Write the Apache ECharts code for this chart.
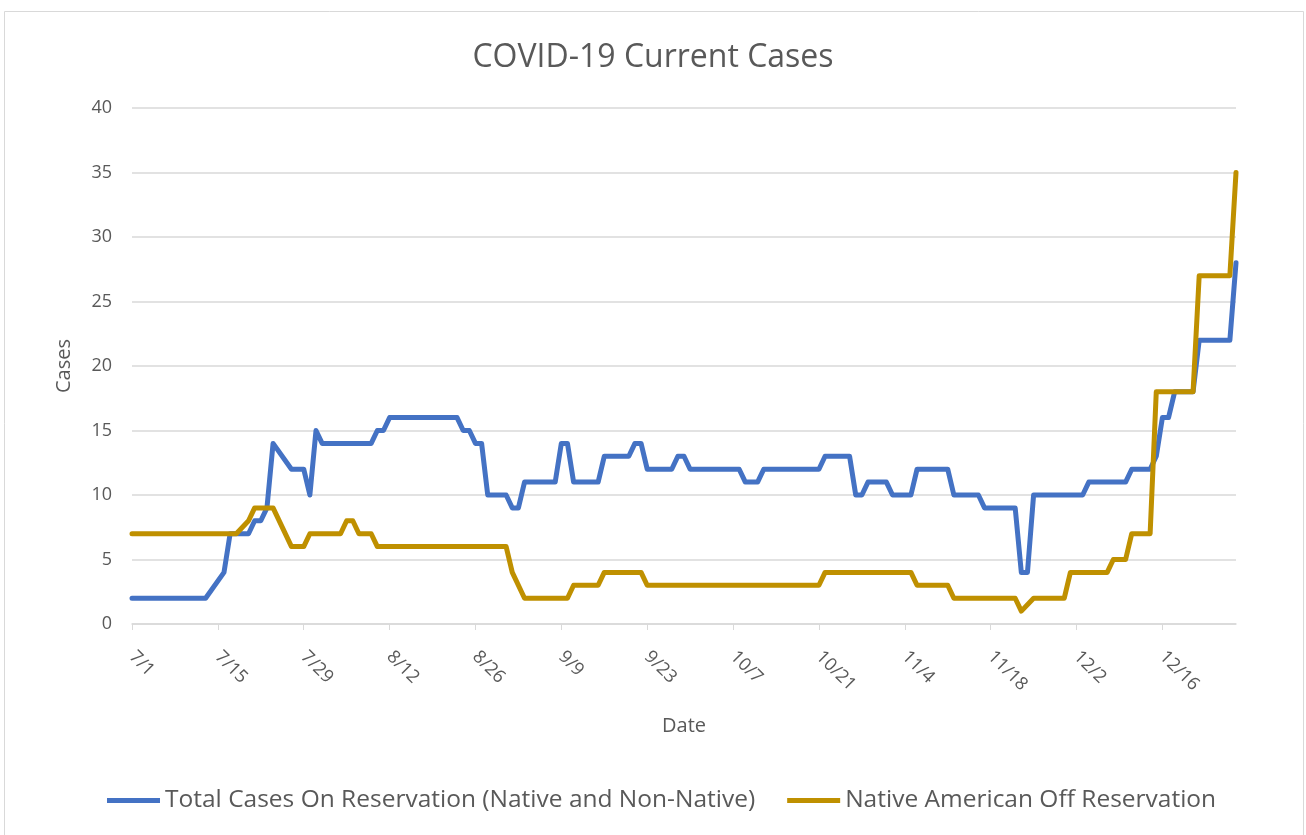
<!DOCTYPE html>
<html>
<head>
<meta charset="utf-8">
<script src="https://cdn.jsdelivr.net/npm/echarts@6/dist/echarts.min.js"></script>
<style>
html, body { margin: 0; padding: 0; background: #fff; }
#chart { width: 1306px; height: 835px; }
</style>
</head>
<body>
<div id="chart"></div>
<script>
// daily values from 7/1 to 12/28, null = no report that day (line is drawn straight across)
const totalOnReservation = [
    2, 2, 2, 2, 2, 2, 2, 2, 2, 2, 2, 2, 2, null,
    null, 4, 7, 7, 7, 7, 8, 8, 9, 14, null, null, 12, 12,
    12, 10, 15, 14, 14, 14, 14, 14, 14, 14, 14, 14, 15, 15,
    16, 16, 16, 16, 16, 16, 16, 16, 16, 16, 16, 16, 15, 15,
    14, 14, 10, 10, 10, 10, 9, 9, 11, 11, 11, 11, 11, 11,
    14, 14, 11, 11, 11, 11, 11, 13, 13, 13, 13, 13, 14, 14,
    12, 12, 12, 12, 12, 13, 13, 12, 12, 12, 12, 12, 12, 12,
    12, 12, 11, 11, 11, 12, 12, 12, 12, 12, 12, 12, 12, 12,
    12, 13, 13, 13, 13, 13, 10, 10, 11, 11, 11, 11, 10, 10,
    10, 10, 12, 12, 12, 12, 12, 12, 10, 10, 10, 10, 10, 9,
    9, 9, 9, 9, 9, 4, 4, 10, 10, 10, 10, 10, 10, 10,
    10, 10, 11, 11, 11, 11, 11, 11, 11, 12, 12, 12, 12, 13,
    16, 16, 18, 18, 18, 18, 22, 22, 22, 22, 22, 22, 28
];
const nativeOffReservation = [
    7, 7, 7, 7, 7, 7, 7, 7, 7, 7, 7, 7, 7, 7,
    7, 7, 7, 7, null, 8, 9, 9, 9, 9, null, null, 6, 6,
    6, 7, 7, 7, 7, 7, 7, 8, 8, 7, 7, 7, 6, 6,
    6, 6, 6, 6, 6, 6, 6, 6, 6, 6, 6, 6, 6, 6,
    6, 6, 6, 6, 6, 6, 4, null, 2, 2, 2, 2, 2, 2,
    2, 2, 3, 3, 3, 3, 3, 4, 4, 4, 4, 4, 4, 4,
    3, 3, 3, 3, 3, 3, 3, 3, 3, 3, 3, 3, 3, 3,
    3, 3, 3, 3, 3, 3, 3, 3, 3, 3, 3, 3, 3, 3,
    3, 4, 4, 4, 4, 4, 4, 4, 4, 4, 4, 4, 4, 4,
    4, 4, 3, 3, 3, 3, 3, 3, 2, 2, 2, 2, 2, 2,
    2, 2, 2, 2, 2, 1, null, 2, 2, 2, 2, 2, 2, 4,
    4, 4, 4, 4, 4, 4, 5, 5, 5, 7, 7, 7, 7, 18,
    18, 18, 18, 18, 18, 18, 27, 27, 27, 27, 27, 27, 35
];
const seriesNames = ['Total Cases On Reservation (Native and Non-Native)', 'Native American Off Reservation'];
const seriesColors = ['#4472c4', '#bf9000'];

const dates = totalOnReservation.map((_, i) => {
    const d = new Date(2020, 6, 1 + i);
    return (d.getMonth() + 1) + '/' + d.getDate();
});

const textColor = '#595959';
const fontFamily = '"Open Sans", sans-serif';

const chart = echarts.init(document.getElementById('chart'));
chart.setOption({
    animation: false,
    backgroundColor: '#fff',
    textStyle: { fontFamily: fontFamily, color: textColor },
    title: {
        text: 'COVID-19 Current Cases',
        left: 'center',
        top: 37,
        textStyle: { fontSize: 32, fontWeight: 'normal', color: textColor, fontFamily: fontFamily }
    },
    // chart area border of the original spreadsheet chart
    graphic: [{
        type: 'rect',
        shape: { x: 4.5, y: 11.5, width: 1299, height: 840 },
        style: { fill: 'none', stroke: '#d9d9d9', lineWidth: 1 },
        silent: true
    }],
    grid: { left: 132, top: 108, width: 1104, height: 516 },
    legend: {
        left: 107,
        top: 788,
        padding: 0,
        icon: 'rect',
        itemWidth: 53,
        itemHeight: 5,
        itemGap: 32,
        textStyle: { fontSize: 24.5, color: textColor, fontFamily: fontFamily },
        data: seriesNames
    },
    xAxis: {
        type: 'category',
        data: dates,
        boundaryGap: false,
        name: 'Date',
        nameLocation: 'middle',
        nameGap: 92,
        nameTextStyle: { fontSize: 20, color: textColor },
        axisLine: { lineStyle: { color: '#d9d9d9', width: 1.5 } },
        axisTick: { interval: 13, length: 6, lineStyle: { color: '#d9d9d9' } },
        axisLabel: { interval: 13, rotate: -45, fontSize: 18, color: textColor, margin: 30 },
        splitLine: { show: false }
    },
    yAxis: {
        type: 'value',
        min: 0,
        max: 40,
        interval: 5,
        name: 'Cases',
        nameLocation: 'middle',
        nameGap: 58,
        nameRotate: 90,
        nameTextStyle: { fontSize: 20, color: textColor },
        axisLine: { show: false },
        axisTick: { show: false },
        axisLabel: { fontSize: 18, color: textColor, margin: 20 },
        splitLine: { lineStyle: { color: '#d9d9d9', width: 1.5 } }
    },
    series: [
        {
            name: seriesNames[0],
            type: 'line',
            data: totalOnReservation,
            connectNulls: true,
            clip: false,
            symbol: 'none',
            color: seriesColors[0],
            lineStyle: { width: 5, cap: 'round', join: 'round' }
        },
        {
            name: seriesNames[1],
            type: 'line',
            data: nativeOffReservation,
            connectNulls: true,
            clip: false,
            symbol: 'none',
            color: seriesColors[1],
            lineStyle: { width: 5, cap: 'round', join: 'round' }
        }
    ]
});
</script>
</body>
</html>
